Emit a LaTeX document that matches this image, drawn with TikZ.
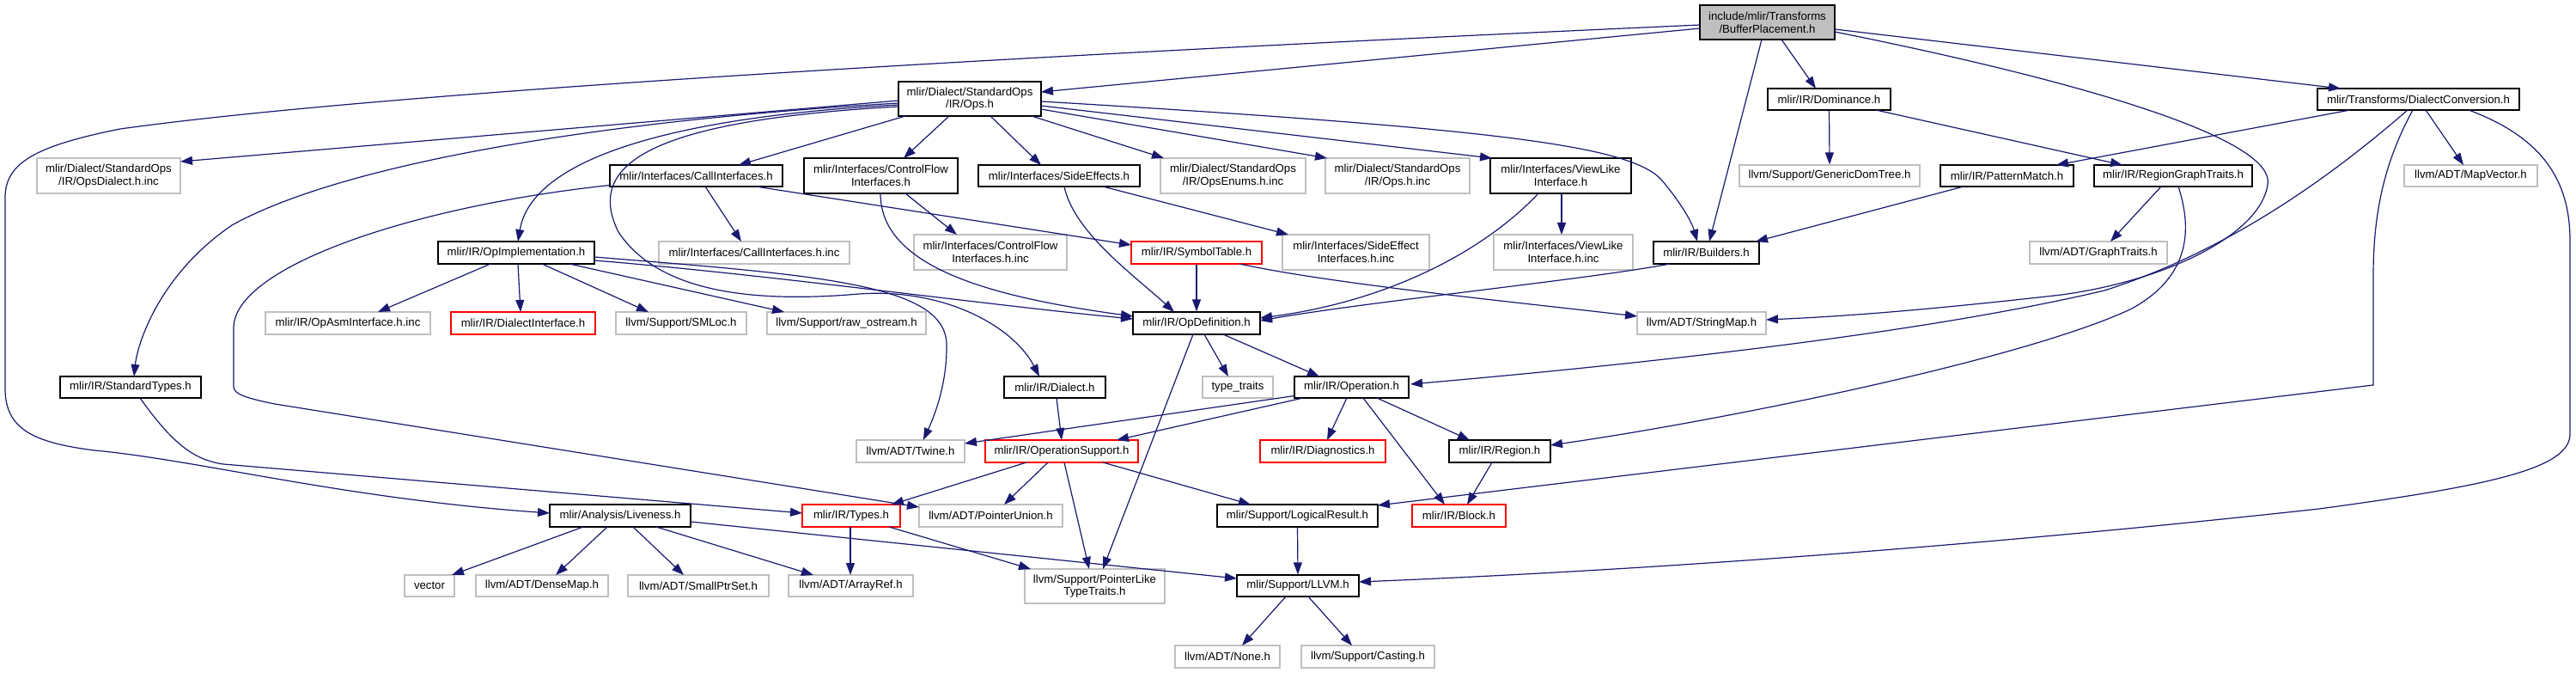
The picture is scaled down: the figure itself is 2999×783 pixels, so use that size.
\documentclass[tikz,border=0pt]{standalone}
\usepackage{fontspec}
\setmainfont{Liberation Sans}
\usetikzlibrary{arrows.meta,calc}
\definecolor{edgeblue}{HTML}{191970}
\definecolor{greyb}{HTML}{BFBFBF}
\begin{document}
\begin{tikzpicture}[x=1pt,y=-1pt,
 box/.style={rectangle, inner sep=1pt, align=center, font=\fontsize{13.2pt}{14.6pt}\selectfont, line width=1.2pt},
 doc/.style={box, draw=black},
 undoc/.style={box, draw=greyb},
 trunc/.style={box, draw=red},
 rootbox/.style={box, draw=black, fill=greyb},
 sz/.style 2 args={minimum width=#1pt, minimum height=#2pt},
 dep/.style={draw=edgeblue, line width=1.2pt, -{Triangle[length=14pt,width=10pt]}}
]
\fill[white] (0,0) rectangle (2999,783);
\useasboundingbox (0,0) rectangle (2999,783);

% ---------- nodes ----------
\node[rootbox,sz={157}{40}] (root) at (2057.5,26) {include/mlir/Transforms\\/BufferPlacement.h};
\node[doc,sz={166}{40}] (ops) at (1129,115) {mlir/Dialect/StandardOps\\/IR/Ops.h};
\node[doc,sz={143}{25}] (dom) at (2129.5,115.5) {mlir/IR/Dominance.h};
\node[doc,sz={235}{25}] (dc) at (2815.5,115.5) {mlir/Transforms/DialectConversion.h};

\node[undoc,sz={167}{41}] (opsdialect) at (126.5,204.5) {mlir/Dialect/StandardOps\\/IR/OpsDialect.h.inc};
\node[doc,sz={201}{25}] (callif) at (810.5,204.5) {mlir/Interfaces/CallInterfaces.h};
\node[doc,sz={179}{41}] (cflow) at (1025.5,204.5) {mlir/Interfaces/ControlFlow\\Interfaces.h};
\node[doc,sz={188}{25}] (side) at (1233,204.5) {mlir/Interfaces/SideEffects.h};
\node[undoc,sz={169}{41}] (opsenums) at (1435.5,204.5) {mlir/Dialect/StandardOps\\/IR/OpsEnums.h.inc};
\node[undoc,sz={168}{41}] (opshinc) at (1627,204.5) {mlir/Dialect/StandardOps\\/IR/Ops.h.inc};
\node[doc,sz={164}{41}] (viewlike) at (1817,204.5) {mlir/Interfaces/ViewLike\\Interface.h};
\node[undoc,sz={210}{25}] (gendom) at (2130,204.5) {llvm/Support/GenericDomTree.h};
\node[doc,sz={155}{25}] (pattern) at (2336.5,204.5) {mlir/IR/PatternMatch.h};
\node[doc,sz={184}{25}] (rgt) at (2530,204.5) {mlir/IR/RegionGraphTraits.h};
\node[undoc,sz={155}{25}] (mapvec) at (2876.5,204.5) {llvm/ADT/MapVector.h};

\node[doc,sz={182}{26}] (opimpl) at (601,294) {mlir/IR/OpImplementation.h};
\node[undoc,sz={222}{26}] (callinc) at (878,294) {mlir/Interfaces/CallInterfaces.h.inc};
\node[undoc,sz={178}{41}] (cflowinc) at (1153,293.5) {mlir/Interfaces/ControlFlow\\Interfaces.h.inc};
\node[trunc,sz={152}{26}] (symtab) at (1393,294) {mlir/IR/SymbolTable.h};
\node[undoc,sz={171}{41}] (sideinc) at (1578.5,293.5) {mlir/Interfaces/SideEffect\\Interfaces.h.inc};
\node[undoc,sz={162}{41}] (viewinc) at (1820,293.5) {mlir/Interfaces/ViewLike\\Interface.h.inc};
\node[doc,sz={123}{26}] (builders) at (1986.5,294) {mlir/IR/Builders.h};
\node[undoc,sz={160}{26}] (graphtraits) at (2443,294) {llvm/ADT/GraphTraits.h};

\node[undoc,sz={192}{26}] (opasm) at (405,376) {mlir/IR/OpAsmInterface.h.inc};
\node[trunc,sz={168}{26}] (dialif) at (609,376) {mlir/IR/DialectInterface.h};
\node[undoc,sz={152}{26}] (smloc) at (793,376) {llvm/Support/SMLoc.h};
\node[undoc,sz={185}{26}] (rawos) at (985.5,376) {llvm/Support/raw\_ostream.h};
\node[doc,sz={148}{26}] (opdef) at (1393,376) {mlir/IR/OpDefinition.h};
\node[undoc,sz={150}{26}] (strmap) at (1981,376) {llvm/ADT/StringMap.h};

\node[doc,sz={164}{25}] (stdtypes) at (152,450.5) {mlir/IR/StandardTypes.h};
\node[doc,sz={118}{25}] (dialect) at (1228,450.5) {mlir/IR/Dialect.h};
\node[undoc,sz={82}{25}] (typetraits) at (1441,450.5) {type\_traits};
\node[doc,sz={133}{25}] (operation) at (1573.5,450.5) {mlir/IR/Operation.h};

\node[undoc,sz={126}{26}] (twine) at (1060,525) {llvm/ADT/Twine.h};
\node[trunc,sz={178}{26}] (opsupport) at (1236,525) {mlir/IR/OperationSupport.h};
\node[trunc,sz={146}{26}] (diag) at (1540,525) {mlir/IR/Diagnostics.h};
\node[doc,sz={118}{26}] (region) at (1746,525) {mlir/IR/Region.h};

\node[doc,sz={164}{26}] (liveness) at (722,600) {mlir/Analysis/Liveness.h};
\node[trunc,sz={114}{26}] (types) at (991,600) {mlir/IR/Types.h};
\node[undoc,sz={167}{26}] (ptrunion) at (1153.5,600) {llvm/ADT/PointerUnion.h};
\node[doc,sz={187}{26}] (logres) at (1510.5,600) {mlir/Support/LogicalResult.h};
\node[trunc,sz={109}{26}] (block) at (1698.5,600) {mlir/IR/Block.h};

\node[undoc,sz={58}{25}] (vector) at (500,681.5) {vector};
\node[undoc,sz={154}{25}] (densemap) at (631,681.5) {llvm/ADT/DenseMap.h};
\node[undoc,sz={164}{25}] (smallptr) at (813,681.5) {llvm/ADT/SmallPtrSet.h};
\node[undoc,sz={145}{25}] (arrayref) at (990.5,681.5) {llvm/ADT/ArrayRef.h};
\node[undoc,sz={163}{40}] (ptrlike) at (1274.5,682) {llvm/Support/PointerLike\\TypeTraits.h};
\node[doc,sz={142}{25}] (llvm) at (1511,681.5) {mlir/Support/LLVM.h};

\node[undoc,sz={122}{26}] (none) at (1429,764) {llvm/ADT/None.h};
\node[undoc,sz={155}{26}] (casting) at (1592.5,764) {llvm/Support/Casting.h};

% ---------- edges ----------
% root
\draw[dep] ($(root)+(-78.5,7)$) -- ($(ops)+(83,-8)$);
\draw[dep] ($(root)+(-78.5,3)$) .. controls (1400,55) and (500,100) .. (140,150)
  .. controls (40,170) and (6,190) .. (6,230) -- (6,452)
  .. controls (6,500) and (40,515) .. (110,524)
  .. controls (230,535) and (400,580) .. ($(liveness)+(-82,-3)$);
\draw[dep] ($(root)+(16.5,20)$) -- ($(dom)+(-15.5,-12.5)$);
\draw[dep] ($(root)+(78.5,8)$) -- ($(dc)+(-90.5,-12.5)$);
\draw[dep] ($(root)+(-6.5,20)$) -- ($(builders)+(3.5,-13)$);
\draw[dep] ($(root)+(78.5,11)$) .. controls (2450,100) and (2650,165) .. (2640,215)
  .. controls (2632,270) and (2530,325) .. (2400,343)
  .. controls (2250,360) and (2150,368) .. ($(strmap)+(75,-4)$);

% DialectConversion
\draw[dep] ($(dc)+(-79.5,12.5)$) -- ($(pattern)+(57.5,-12.5)$);
\draw[dep] ($(dc)+(-12.5,12.5)$) .. controls (2720,200) and (2600,290) .. (2450,338)
  .. controls (2250,385) and (1950,420) .. ($(operation)+(68.5,-3.5)$);
\draw[dep] ($(dc)+(-6.5,12.5)$) .. controls (2775,190) and (2763,250) .. (2763,320)
  -- (2763,448) -- ($(logres)+(93.5,-12)$);
\draw[dep] ($(dc)+(8.5,12.5)$) -- ($(mapvec)+(-8.5,-12.5)$);
\draw[dep] ($(dc)+(58.5,12.5)$) .. controls (2960,160) and (2992,210) .. (2992,280)
  -- (2992,505) .. controls (2992,545) and (2900,565) .. (2700,592)
  .. controls (2400,625) and (2000,660) .. ($(llvm)+(71,-4.5)$);

% Dominance, PatternMatch, RegionGraphTraits
\draw[dep] (dom.south) -- (gendom.north);
\draw[dep] ($(dom)+(54.5,12.5)$) -- ($(rgt)+(-59,-12.5)$);
\draw[dep] ($(pattern)+(-50.5,12.5)$) -- ($(builders)+(57.5,-13)$);
\draw[dep] ($(rgt)+(-14,12.5)$) -- ($(graphtraits)+(14,-13)$);
\draw[dep] ($(rgt)+(6,12.5)$) .. controls (2550,260) and (2555,320) .. (2480,360)
  .. controls (2350,420) and (2000,490) .. ($(region)+(59,-7)$);

% Ops.h
\draw[dep] ($(ops)+(-83,2)$) -- ($(opsdialect)+(83.5,-16.5)$);
\draw[dep] ($(ops)+(-83,5)$) .. controls (700,140) and (400,190) .. (270,262)
  .. controls (185,320) and (160,400) .. ($(stdtypes)+(4,-12.5)$);
\draw[dep] ($(ops)+(-83,7)$) .. controls (800,135) and (620,180) .. ($(opimpl)+(2,-13)$);
\draw[dep] ($(ops)+(-83,9)$) .. controls (760,140) and (680,190) .. (720,270)
  .. controls (760,330) and (850,355) .. (1000,342)
  .. controls (1100,335) and (1180,380) .. ($(dialect)+(-18,-12.5)$);
\draw[dep] ($(ops)+(-75,20)$) -- ($(callif)+(49.5,-12.5)$);
\draw[dep] ($(ops)+(-24,20)$) -- ($(cflow)+(26.5,-20.5)$);
\draw[dep] ($(ops)+(24,20)$) -- ($(side)+(-21,-12.5)$);
\draw[dep] ($(ops)+(72,20)$) -- ($(opsenums)+(-80.5,-20.5)$);
\draw[dep] ($(ops)+(83,12)$) -- ($(opshinc)+(-82,-20.5)$);
\draw[dep] ($(ops)+(83,8)$) -- ($(viewlike)+(-80,-20.5)$);
\draw[dep] ($(ops)+(83,3)$) .. controls (1750,150) and (1900,170) .. (1935,210)
  .. controls (1960,240) and (1970,260) .. ($(builders)+(-10.5,-13)$);

% CallInterfaces
\draw[dep] ($(callif)+(10.5,12.5)$) -- ($(callinc)+(-15,-13)$);
\draw[dep] ($(callif)+(69.5,12.5)$) -- ($(symtab)+(-76,-9)$);
\draw[dep] ($(callif)+(-100.5,11)$) .. controls (480,240) and (275,310) .. (272,380)
  -- (272,450) .. controls (272,458) and (285,463) .. (320,470)
  -- ($(ptrunion)+(-83.5,-10)$);

% ControlFlow, SideEffects, ViewLike
\draw[dep] ($(cflow)+(28.5,20.5)$) -- ($(cflowinc)+(-39,-20.5)$);
\draw[dep] ($(cflow)+(-0.5,20.5)$) .. controls (1025,310) and (1150,345) .. ($(opdef)+(-74,-8)$);
\draw[dep] ($(side)+(51,12.5)$) -- ($(sideinc)+(-78.5,-20.5)$);
\draw[dep] ($(side)+(6,12.5)$) .. controls (1250,270) and (1320,320) .. ($(opdef)+(-26,-13)$);
\draw[dep] ($(viewlike)+(1,20.5)$) -- ($(viewinc)+(-2,-20.5)$);
\draw[dep] ($(viewlike)+(-26,20.5)$) .. controls (1730,290) and (1620,350) .. ($(opdef)+(74,-6)$);

% Builders, SymbolTable
\draw[dep] ($(builders)+(-42.5,13)$) .. controls (1850,325) and (1600,350) .. ($(opdef)+(74,-3)$);
\draw[dep] (symtab.south) -- (opdef.north);
\draw[dep] ($(symtab)+(50,13)$) .. controls (1550,330) and (1750,350) .. ($(strmap)+(-75,-8)$);

% OpImplementation
\draw[dep] ($(opimpl)+(-30,13)$) -- ($(opasm)+(35,-13)$);
\draw[dep] ($(opimpl)+(2,13)$) -- ($(dialif)+(-3,-13)$);
\draw[dep] ($(opimpl)+(30,13)$) -- ($(smloc)+(-38,-13)$);
\draw[dep] ($(opimpl)+(62,13)$) -- ($(rawos)+(-72.5,-13)$);
\draw[dep] ($(opimpl)+(91,9)$) .. controls (900,320) and (1150,355) .. ($(opdef)+(-74,-5)$);
\draw[dep] ($(opimpl)+(91,5)$) .. controls (950,320) and (1100,330) .. (1102,400)
  .. controls (1103,450) and (1085,490) .. ($(twine)+(15,-13)$);

% OpDefinition
\draw[dep] ($(opdef)+(9,13)$) -- ($(typetraits)+(-11,-12.5)$);
\draw[dep] ($(opdef)+(31,13)$) -- ($(operation)+(-37.5,-12.5)$);
\draw[dep] ($(opdef)+(-4,13)$) -- ($(ptrlike)+(9.5,-20)$);

% Dialect, Operation
\draw[dep] ($(dialect)+(2,12.5)$) -- ($(opsupport)+(0,-13)$);
\draw[dep] ($(operation)+(-66.5,10)$) -- ($(twine)+(63,-9)$);
\draw[dep] ($(operation)+(-56.5,12.5)$) -- ($(opsupport)+(64,-13)$);
\draw[dep] ($(operation)+(-5.5,12.5)$) -- ($(diag)+(5,-13)$);
\draw[dep] ($(operation)+(13.5,12.5)$) -- ($(block)+(-16.5,-13)$);
\draw[dep] ($(operation)+(29.5,12.5)$) -- ($(region)+(-35,-13)$);

% OperationSupport, Region, LogicalResult, LLVM
\draw[dep] ($(opsupport)+(-41,13)$) -- ($(types)+(47,-13)$);
\draw[dep] ($(opsupport)+(-16,13)$) -- ($(ptrunion)+(15.5,-13)$);
\draw[dep] ($(opsupport)+(3,13)$) -- ($(ptrlike)+(-6.5,-20)$);
\draw[dep] ($(opsupport)+(48,13)$) -- ($(logres)+(-54.5,-13)$);
\draw[dep] ($(region)+(-9,13)$) -- ($(block)+(9.5,-13)$);
\draw[dep] (logres.south) -- (llvm.north);
\draw[dep] ($(llvm)+(-14,12.5)$) -- ($(none)+(17,-13)$);
\draw[dep] ($(llvm)+(12,12.5)$) -- ($(casting)+(-18.5,-13)$);

% StandardTypes, Types
\draw[dep] ($(stdtypes)+(11,12.5)$) .. controls (200,515) and (225,535) .. (260,540)
  -- ($(types)+(-57,-3)$);
\draw[dep] ($(types)+(-1,13)$) -- ($(arrayref)+(-0.5,-12.5)$);
\draw[dep] ($(types)+(44,13)$) -- ($(ptrlike)+(-74.5,-20)$);

% Liveness
\draw[dep] ($(liveness)+(-43,13)$) -- ($(vector)+(26,-12.5)$);
\draw[dep] ($(liveness)+(-15,13)$) -- ($(densemap)+(16,-12.5)$);
\draw[dep] ($(liveness)+(15,13)$) -- ($(smallptr)+(-17,-12.5)$);
\draw[dep] ($(liveness)+(42,13)$) -- ($(arrayref)+(-43.5,-12.5)$);
\draw[dep] ($(liveness)+(82,7)$) -- ($(llvm)+(-71,-8.5)$);
\end{tikzpicture}
\end{document}
